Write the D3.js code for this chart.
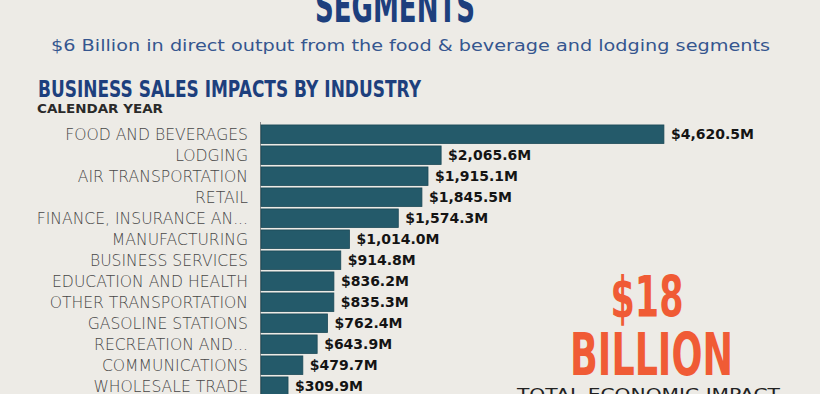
<!DOCTYPE html>
<html>
<head>
<meta charset="utf-8">
<script src="https://cdn.jsdelivr.net/npm/d3@7"></script>
<style>
  html, body { margin: 0; padding: 0; background: #edebe6; }
  svg { display: block; }
</style>
</head>
<body>
<div id="chart"></div>
<script>
const categories = [
  "FOOD AND BEVERAGES", "LODGING", "AIR TRANSPORTATION", "RETAIL",
  "FINANCE, INSURANCE AN...", "MANUFACTURING", "BUSINESS SERVICES",
  "EDUCATION AND HEALTH", "OTHER TRANSPORTATION", "GASOLINE STATIONS",
  "RECREATION AND...", "COMMUNICATIONS", "WHOLESALE TRADE"
];
const values = [4620.5, 2065.6, 1915.1, 1845.5, 1574.3, 1014.0, 914.8, 836.2, 835.3, 762.4, 643.9, 479.7, 309.9];
const valueLabels = ["$4,620.5M", "$2,065.6M", "$1,915.1M", "$1,845.5M", "$1,574.3M", "$1,014.0M", "$914.8M", "$836.2M", "$835.3M", "$762.4M", "$643.9M", "$479.7M", "$309.9M"];
const xDomain = [0, 5000];

const W = 820, H = 394;
const svg = d3.select("#chart").append("svg").attr("width", W).attr("height", H);
svg.append("rect").attr("width", W).attr("height", H).attr("fill", "#edebe6");

const navy = "#1d3f7d";
const orange = "#f05b35";

// Header
svg.append("text").attr("x", 395).attr("y", 22).attr("text-anchor", "middle")
  .attr("font-family", "DejaVu Sans").attr("font-weight", "bold").attr("font-size", 44)
  .attr("fill", navy).attr("textLength", 160).attr("lengthAdjust", "spacingAndGlyphs")
  .text("SEGMENTS");

svg.append("text").attr("x", 410.5).attr("y", 51).attr("text-anchor", "middle")
  .attr("font-family", "DejaVu Sans").attr("font-weight", 400).attr("font-size", 16.5)
  .attr("fill", "#35568f").attr("textLength", 719).attr("lengthAdjust", "spacingAndGlyphs")
  .text("$6 Billion in direct output from the food & beverage and lodging segments");

svg.append("text").attr("x", 38).attr("y", 97)
  .attr("font-family", "DejaVu Sans").attr("font-weight", "bold").attr("font-size", 23)
  .attr("fill", navy).attr("textLength", 383).attr("lengthAdjust", "spacingAndGlyphs")
  .text("BUSINESS SALES IMPACTS BY INDUSTRY");

svg.append("text").attr("x", 37).attr("y", 112.5)
  .attr("font-family", "DejaVu Sans").attr("font-weight", "bold").attr("font-size", 11.5)
  .attr("fill", "#2a2a2a").attr("textLength", 126).attr("lengthAdjust", "spacingAndGlyphs")
  .text("CALENDAR YEAR");

// Scales
const x = d3.scaleLinear().domain(xDomain).range([261, 697]);
const y = d3.scaleBand().domain(categories).range([123.7, 396.7]).paddingInner(0.12).paddingOuter(0.06);

// Axis line
svg.append("line").attr("x1", 260.5).attr("x2", 260.5).attr("y1", 122).attr("y2", H)
  .attr("stroke", "#8a8a8a").attr("stroke-width", 1);

const rows = svg.append("g").selectAll("g").data(categories).join("g");

rows.append("rect")
  .attr("x", x(0)).attr("y", d => y(d))
  .attr("width", (d, i) => x(values[i]) - x(0))
  .attr("height", y.bandwidth())
  .attr("fill", "#245a6a").attr("stroke", "#1a4856").attr("stroke-width", 0.8);

rows.append("text")
  .attr("x", 248).attr("y", d => y(d) + y.bandwidth() / 2)
  .attr("dy", "0.36em").attr("text-anchor", "end")
  .attr("font-family", "DejaVu Sans").attr("font-weight", 300).attr("font-size", 15.6)
  .attr("fill", "#474747")
  .text(d => d);

rows.append("text")
  .attr("x", (d, i) => x(values[i]) + 7).attr("y", d => y(d) + y.bandwidth() / 2)
  .attr("dy", "0.37em")
  .attr("font-family", "DejaVu Sans").attr("font-weight", "bold").attr("font-size", 14)
  .attr("fill", "#141414")
  .text((d, i) => valueLabels[i]);

// Big number
svg.append("text").attr("x", 647).attr("y", 317).attr("text-anchor", "middle")
  .attr("font-family", "DejaVu Sans").attr("font-weight", "bold").attr("font-size", 57)
  .attr("fill", orange).attr("textLength", 73).attr("lengthAdjust", "spacingAndGlyphs")
  .text("$18");

svg.append("text").attr("x", 651.5).attr("y", 375).attr("text-anchor", "middle")
  .attr("font-family", "DejaVu Sans").attr("font-weight", "bold").attr("font-size", 59)
  .attr("fill", orange).attr("textLength", 163).attr("lengthAdjust", "spacingAndGlyphs")
  .text("BILLION");

svg.append("text").attr("x", 648.5).attr("y", 400).attr("text-anchor", "middle")
  .attr("font-family", "DejaVu Sans").attr("font-weight", 500).attr("font-size", 16.5)
  .attr("fill", "#222").attr("textLength", 263).attr("lengthAdjust", "spacingAndGlyphs")
  .text("TOTAL ECONOMIC IMPACT");
</script>
</body>
</html>
